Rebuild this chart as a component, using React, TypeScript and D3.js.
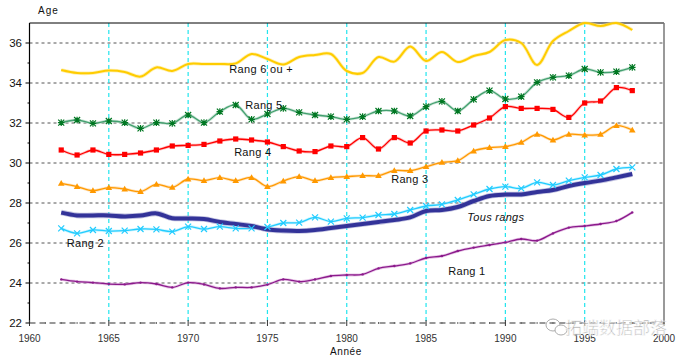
import React from "react";
import * as d3 from "d3";

const years = d3.range(1962, 1999);
const rang6 = [34.65, 34.5, 34.5, 34.62, 34.55, 34.32, 34.78, 34.6, 34.95, 34.95, 34.95, 34.98, 35.45, 35.2, 34.93, 35.3, 35.4, 35.45, 34.6, 34.5, 35.3, 35.07, 35.82, 35.1, 35.55, 35.05, 35.35, 35.55, 36.15, 36.0, 34.9, 36.1, 36.6, 37.0, 36.85, 37.0, 36.65];
const rang5 = [32.02, 32.15, 31.98, 32.1, 32.02, 31.73, 32.02, 31.98, 32.4, 32.02, 32.57, 32.9, 32.18, 32.45, 32.73, 32.53, 32.4, 32.32, 32.18, 32.32, 32.6, 32.6, 32.35, 32.82, 33.08, 32.6, 33.18, 33.62, 33.2, 33.32, 34.03, 34.28, 34.37, 34.7, 34.53, 34.57, 34.78];
const rang4 = [30.65, 30.4, 30.65, 30.43, 30.43, 30.5, 30.65, 30.85, 30.88, 30.93, 31.1, 31.2, 31.15, 31.05, 30.82, 30.6, 30.57, 30.85, 30.82, 31.27, 30.7, 31.27, 31.0, 31.6, 31.65, 31.6, 31.9, 32.25, 32.82, 32.73, 32.73, 32.68, 32.28, 33.0, 33.1, 33.77, 33.62];
const rang3 = [28.98, 28.82, 28.62, 28.77, 28.7, 28.57, 28.93, 28.78, 29.2, 29.12, 29.27, 29.12, 29.27, 28.82, 29.1, 29.32, 29.12, 29.27, 29.32, 29.37, 29.37, 29.62, 29.62, 29.82, 30.03, 30.12, 30.6, 30.77, 30.82, 31.03, 31.43, 31.15, 31.43, 31.4, 31.43, 31.87, 31.65];
const tous = [27.52, 27.38, 27.38, 27.38, 27.33, 27.37, 27.48, 27.24, 27.23, 27.2, 27.05, 26.95, 26.85, 26.68, 26.62, 26.6, 26.65, 26.75, 26.85, 26.95, 27.05, 27.15, 27.28, 27.6, 27.65, 27.8, 28.1, 28.35, 28.42, 28.43, 28.55, 28.65, 28.85, 29.0, 29.12, 29.28, 29.45];
const rang2 = [26.73, 26.48, 26.65, 26.6, 26.62, 26.7, 26.68, 26.57, 26.82, 26.7, 26.82, 26.73, 26.73, 26.8, 27.0, 27.02, 27.28, 27.07, 27.23, 27.27, 27.4, 27.45, 27.65, 27.85, 27.93, 28.15, 28.43, 28.7, 28.82, 28.73, 29.03, 28.9, 29.12, 29.28, 29.4, 29.7, 29.78];
const rang1 = [24.18, 24.07, 24.02, 23.95, 23.93, 24.02, 23.95, 23.78, 24.02, 23.93, 23.73, 23.78, 23.78, 23.92, 24.18, 24.07, 24.18, 24.35, 24.4, 24.43, 24.73, 24.85, 24.98, 25.25, 25.35, 25.6, 25.77, 25.9, 26.03, 26.2, 26.12, 26.48, 26.77, 26.85, 26.95, 27.1, 27.53];

const xTicks = [1960, 1965, 1970, 1975, 1980, 1985, 1990, 1995, 2000];
const yTicks = [22, 24, 26, 28, 30, 32, 34, 36];
const yMinor = [23, 25, 27, 29, 31, 33, 35];

const labels = [
  { text: "Rang 6 ou +", year: 1972.6, value: 34.7 },
  { text: "Rang 5", year: 1973.6, value: 32.88 },
  { text: "Rang 4", year: 1972.9, value: 30.55 },
  { text: "Rang 3", year: 1982.8, value: 29.2 },
  { text: "Tous rangs", year: 1987.6, value: 27.3 },
  { text: "Rang 2", year: 1962.35, value: 26.0 },
  { text: "Rang 1", year: 1986.4, value: 24.58 },
];

export default function App() {
  const W = 683, H = 361;
  const x = d3.scaleLinear().domain([1960, 2000]).range([29.5, 664]);
  const y = d3.scaleLinear().domain([22, 37]).range([323, 23]);
  const mk = (vals: number[]) =>
    d3.line<number>().x((_, i) => x(years[i])).y((v) => y(v)).curve(d3.curveCatmullRom.alpha(0.5))(vals) || "";
  const pts = (vals: number[]) => vals.map((v, i) => [x(years[i]), y(v)] as [number, number]);

  const font = "Arial, 'Liberation Sans', sans-serif";

  const series = [
    { vals: rang1, color: "#8B1A8B", halo: "#d9a0d9", w: 1.3 },
    { vals: rang2, color: "#22ccff", halo: "#aaeeff", w: 1.3 },
    { vals: tous, color: "#333399", halo: "#9999cc", w: 4 },
    { vals: rang3, color: "#ff9900", halo: "#ffd090", w: 1.3 },
    { vals: rang4, color: "#ff0000", halo: "#ff9999", w: 1.3 },
    { vals: rang5, color: "#44a070", halo: "#a8d4bb", w: 1.3 },
    { vals: rang6, color: "#ffcc00", halo: "#ffe680", w: 2 },
  ];

  const top = y(37), bottom = y(22), left = x(1960), right = x(2000);

  return (
    <svg width={W} height={H} style={{ position: "absolute", left: 0, top: 0, background: "#fff" }}>
      <rect width={W} height={H} fill="#fff" />
      {yTicks.filter((t) => t > 22).map((t) => (
        <line key={"h" + t} x1={left} x2={right} y1={y(t)} y2={y(t)} stroke="#555" strokeWidth={1} strokeDasharray="3,3" />
      ))}
      {xTicks.filter((t) => t > 1960 && t < 2000).map((t) => (
        <line key={"v" + t} x1={x(t)} x2={x(t)} y1={top} y2={bottom} stroke="#22e5ee" strokeWidth={1.2} strokeDasharray="4,3" />
      ))}
      <line x1={left} x2={right} y1={top} y2={top} stroke="#000" strokeWidth={1} />
      <line x1={right} x2={right} y1={top} y2={bottom + 2} stroke="#777" strokeWidth={1.5} />
      <line x1={left} x2={left} y1={top} y2={bottom} stroke="#000" strokeWidth={1.2} />
      <line x1={left} x2={right} y1={bottom} y2={bottom} stroke="#333" strokeWidth={1.2} strokeDasharray="6,4" />
      {xTicks.map((t) => (
        <line key={"xt" + t} x1={x(t)} x2={x(t)} y1={bottom - 3} y2={bottom + 3} stroke="#333" strokeWidth={1} />
      ))}
      {d3.range(1961, 2000).filter((t) => t % 5 !== 0).map((t) => (
        <line key={"xm" + t} x1={x(t)} x2={x(t)} y1={bottom - 1} y2={bottom + 1} stroke="#666" strokeWidth={1} />
      ))}
      {yTicks.map((t) => (
        <line key={"yt" + t} x1={left - 4} x2={left} y1={y(t)} y2={y(t)} stroke="#000" strokeWidth={1} />
      ))}
      {yMinor.map((t) => (
        <line key={"ym" + t} x1={left - 2} x2={left} y1={y(t)} y2={y(t)} stroke="#000" strokeWidth={1} />
      ))}
      {yTicks.map((t) => (
        <text key={"yl" + t} x={22} y={y(t) + 4} fontSize={11.5} fontFamily={font} textAnchor="end" fill="#111">{t}</text>
      ))}
      {xTicks.map((t) => (
        <text key={"xl" + t} x={x(t)} y={342} fontSize={10} fontFamily={font} textAnchor="middle" fill="#333">{t}</text>
      ))}
      <text x={38} y={14} fontSize={10} fontFamily={font} letterSpacing={1} fill="#111">Age</text>
      <text x={330} y={355} fontSize={10} fontFamily={font} letterSpacing={0.6} fill="#111">Année</text>

      {series.map((s, i) => (
        <g key={"s" + i}>
          <path d={mk(s.vals)} fill="none" stroke={s.halo} strokeWidth={s.w + 1.6} strokeLinejoin="round" opacity={0.6} />
          <path d={mk(s.vals)} fill="none" stroke={s.color} strokeWidth={s.w} strokeLinejoin="round" />
        </g>
      ))}
      {pts(rang1).map(([px, py], i) => (
        <circle key={"m1" + i} cx={px} cy={py} r={1.2} fill="#8B1A8B" />
      ))}
      {pts(rang2).map(([px, py], i) => (
        <path key={"m2" + i} d={`M${px - 3},${py - 3}L${px + 3},${py + 3}M${px - 3},${py + 3}L${px + 3},${py - 3}`} stroke="#22ccff" strokeWidth={1.2} />
      ))}
      {pts(rang3).map(([px, py], i) => (
        <path key={"m3" + i} d={`M${px},${py - 3.3}L${px + 3.3},${py + 2.4}L${px - 3.3},${py + 2.4}Z`} fill="#ff9900" />
      ))}
      {pts(rang4).map(([px, py], i) => (
        <rect key={"m4" + i} x={px - 2.6} y={py - 2.6} width={5.2} height={5.2} fill="#ff0000" />
      ))}
      {pts(rang5).map(([px, py], i) => (
        <path key={"m5" + i} d={`M${px - 3},${py - 3}L${px + 3},${py + 3}M${px - 3},${py + 3}L${px + 3},${py - 3}M${px},${py - 3.3}L${px},${py + 3.3}M${px - 3.3},${py}L${px + 3.3},${py}`} stroke="#007722" strokeWidth={1.2} />
      ))}

      {labels.map((l) => (
        <text key={l.text} x={x(l.year)} y={y(l.value) + 4} fontSize={11} fontFamily={font} fontStyle={l.text === "Tous rangs" ? "italic" : "normal"} letterSpacing={0.3} fill="#111">{l.text}</text>
      ))}

      <g opacity={0.8}>
        <ellipse cx={553} cy={325} rx={7} ry={6} fill="none" stroke="#999" strokeWidth={1} />
        <ellipse cx={561} cy={330} rx={6} ry={5} fill="#fff" stroke="#999" strokeWidth={1} />
        <text x={565} y={334} fontSize={17} fontFamily="'Noto Sans CJK SC', sans-serif" fill="#999" stroke="#fff" strokeWidth={0.6}>拓端数据部落</text>
      </g>
    </svg>
  );
}
